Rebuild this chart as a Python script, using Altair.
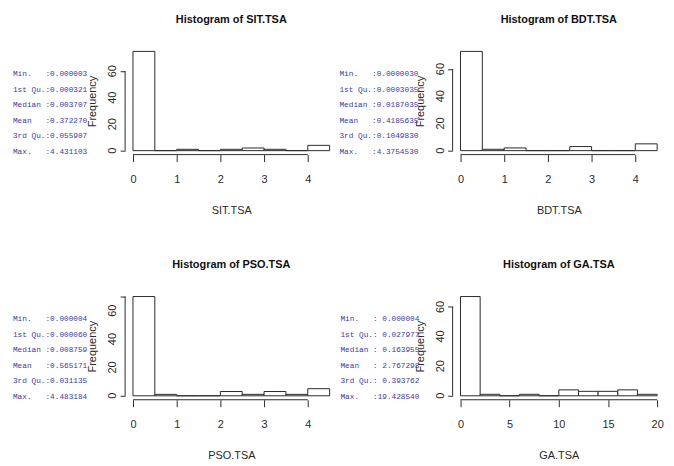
import altair as alt
import pandas as pd

# ---------------- data ----------------
tsa_breaks = [0, 0.5, 1, 1.5, 2, 2.5, 3, 3.5, 4, 4.5]
ga_breaks = [0, 2, 4, 6, 8, 10, 12, 14, 16, 18, 20]

sit_counts = [75, 0, 1, 0, 1, 2, 1, 0, 4]
bdt_counts = [73, 1, 2, 0, 0, 3, 0, 0, 5]
pso_counts = [70, 1, 0, 0, 3, 1, 3, 1, 5]
ga_counts = [67, 1, 0, 1, 0, 4, 3, 3, 4, 1]

tsa_x_ticks = [0, 1, 2, 3, 4]
ga_x_ticks = [0, 5, 10, 15, 20]
y_labels = [0, 20, 40, 60]
y_ticks_major = [0, 20, 40, 60]
y_ticks_to70 = [0, 10, 20, 30, 40, 50, 60, 70]
y_ticks_to60 = [0, 10, 20, 30, 40, 50, 60]

stat_names = ["Min.", "1st Qu.", "Median", "Mean", "3rd Qu.", "Max."]
sit_stats = [":0.000003", ":0.000321", ":0.003707", ":0.372270", ":0.055907", ":4.431103"]
bdt_stats = [":0.0000030", ":0.0003035", ":0.0187035", ":0.4185635", ":0.1049830", ":4.3754530"]
pso_stats = [":0.000004", ":0.000060", ":0.008759", ":0.565171", ":0.031135", ":4.483184"]
ga_stats = [": 0.000004", ": 0.027977", ": 0.163955", ": 2.767298", ": 0.393762", ":19.428540"]

# ---------------- style ----------------
SANS = "Liberation Sans, Arial, sans-serif"
MONO = "Liberation Mono, DejaVu Sans Mono, monospace"
BLUE = "#3a3aa8"
INK = "#2a2a2a"
PW, PH = 214, 108
MONO_SIZE = 7.8
CHAR_W = 0.6 * MONO_SIZE


def stats_chart(values, width, lead):
    df = pd.DataFrame({"row": list(range(len(stat_names))), "name": stat_names,
                       "value": values, "c0": 0, "c1": 7})
    xs = alt.Scale(domain=[-lead / CHAR_W, (width - lead) / CHAR_W], nice=False, zero=False)
    ys = alt.Scale(domain=[-1.73, 5.19], reverse=True, nice=False, zero=False)
    base = alt.Chart(df)
    t1 = base.mark_text(align="left", baseline="middle", font=MONO, fontSize=MONO_SIZE,
                        color=BLUE).encode(
        x=alt.X("c0:Q", scale=xs, axis=None),
        y=alt.Y("row:Q", scale=ys, axis=None),
        text="name:N")
    t2 = base.mark_text(align="left", baseline="middle", font=MONO, fontSize=MONO_SIZE,
                        color=BLUE).encode(
        x=alt.X("c1:Q", scale=xs, axis=None),
        y=alt.Y("row:Q", scale=ys, axis=None),
        text="value:N")
    return alt.layer(t1, t2).properties(width=width, height=PH)


def hist_chart(breaks, counts, xticks, yticks, name):
    ymax = max(counts)
    ylo, yhi = -0.04 * ymax, 1.04 * ymax
    span = breaks[-1] - breaks[0]
    xlo, xhi = breaks[0] - 0.04 * span, breaks[-1] + 0.04 * span
    xs = alt.Scale(domain=[xlo, xhi], nice=False, zero=False)
    ys = alt.Scale(domain=[ylo, yhi], nice=False, zero=False)

    df = pd.DataFrame({"start": breaks[:-1], "end": breaks[1:], "count": counts, "base": 0})
    xaxis = alt.Axis(values=xticks, domain=False, grid=False, tickSize=7, tickColor=INK,
                     labelFont=SANS, labelFontSize=11, labelColor=INK, labelPadding=12,
                     labelFlush=False, labelOverlap=False, title=name, titleFont=SANS,
                     titleFontSize=11, titleFontWeight="normal", titleColor=INK,
                     titlePadding=20)
    yaxis = alt.Axis(values=yticks, labels=False, domain=False, grid=False, tickSize=5,
                     tickColor=INK, title="Frequency", titleFont=SANS,
                     titleFontSize=11, titleFontWeight="normal", titleColor=INK,
                     titlePadding=22)
    bars = alt.Chart(df).mark_rect(fill="white", stroke=INK, strokeWidth=1).encode(
        x=alt.X("start:Q", scale=xs, axis=xaxis),
        x2="end:Q",
        y=alt.Y("count:Q", scale=ys, axis=yaxis),
        y2="base:Q")
    xline_df = pd.DataFrame({"start": [xticks[0]], "end": [xticks[-1]], "count": [ylo]})
    xline = alt.Chart(xline_df).mark_rule(color=INK, strokeWidth=1).encode(
        x="start:Q", x2="end:Q", y="count:Q")
    yline_df = pd.DataFrame({"start": [xlo], "count": [yticks[0]], "top": [yticks[-1]]})
    yline = alt.Chart(yline_df).mark_rule(color=INK, strokeWidth=1).encode(
        x="start:Q", y="count:Q", y2="top:Q")
    ylab_df = pd.DataFrame({"start": [xlo] * len(y_labels), "count": y_labels,
                            "lab": [str(v) for v in y_labels]})
    ylab = alt.Chart(ylab_df).mark_text(angle=270, align="center", baseline="middle", dy=-12,
                                        font=SANS, fontSize=11, color=INK).encode(
        x="start:Q", y="count:Q", text="lab:N")
    return alt.layer(bars, xline, yline, ylab).properties(
        width=PW, height=PH,
        title=alt.TitleParams("Histogram of " + name, font=SANS, fontSize=11,
                              fontWeight="bold", color="#111", anchor="middle", offset=23))


chart = alt.concat(
    stats_chart(sit_stats, 113, 0),
    hist_chart(tsa_breaks, sit_counts, tsa_x_ticks, y_ticks_major, "SIT.TSA"),
    stats_chart(bdt_stats, 116, 2),
    hist_chart(tsa_breaks, bdt_counts, tsa_x_ticks, y_ticks_major, "BDT.TSA"),
    stats_chart(pso_stats, 113, 0),
    hist_chart(tsa_breaks, pso_counts, tsa_x_ticks, y_ticks_to70, "PSO.TSA"),
    stats_chart(ga_stats, 116, 3),
    hist_chart(ga_breaks, ga_counts, ga_x_ticks, y_ticks_to60, "GA.TSA"),
    columns=4,
    spacing={"row": 139, "column": 0},
    bounds="flush",
).properties(
    padding={"left": 4, "top": 3, "right": 0, "bottom": 0},
    background="white",
).configure_view(stroke="transparent")

chart.save("out.html", embed_options={"renderer": "svg", "actions": False})
